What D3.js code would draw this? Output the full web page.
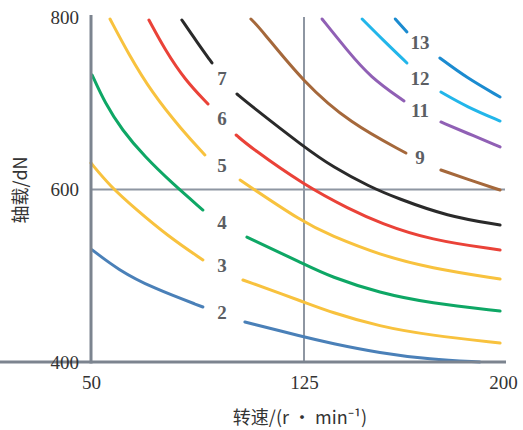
<!DOCTYPE html>
<html>
<head>
<meta charset="UTF-8">
<script src="https://cdn.jsdelivr.net/npm/d3@7"></script>
<style>
body{ margin:0; background:#fff; }
</style>
</head>
<body>
<script>

var width = 523;
var height = 430;

// tick labels
var xTicks = [50, 125, 200];
var yTicks = [400, 600, 800];

// curve names (labels) and colours
var names = ["2", "3", "4", "5", "6", "7", "9", "11", "12", "13"];
var colors = ["#4a80b8", "#f8c23e", "#0ea765", "#f8c23e", "#ea4238", "#2a2a2a",
              "#a5683b", "#9060b5", "#22b6ea", "#1b8bd0"];

// curve values [speed, load]; null = gap where the label sits
var c2  = [[50.4,530],[59.5,507],[71.5,486],[89.4,463.8],null,[104.2,446.4],[125,429],[134.8,422],[153.6,410.4],[172.5,403],[191.3,400]];
var c3  = [[50,630.7],[56.7,604],[65.5,578],[77.1,546],[89.4,518.3],null,[103.5,495.1],[125,469.6],[134.8,458],[153.6,441],[172.5,431],[198.9,422]];
var c4  = [[50.4,732.7],[54.9,700.3],[60.9,669],[69,637.7],[78.5,607.5],[89.4,576.2],null,[104.9,544.9],[125,513.6],[134.8,499],[153.6,480],[172.5,468.4],[198.9,459.1]];
var c5  = [[56.7,797.7],[63,758.3],[71.5,711.9],[82,669],[90.1,640],null,[102.5,611],[125,561.2],[134.8,547.2],[153.6,524.1],[172.5,509],[198.9,496.2]];
var c6  = [[70.4,796.5],[76.1,761.7],[83.1,727],[91.2,699.1],null,[101.1,663.2],[106,649.3],[125,605.2],[142.3,577],[153.6,561.2],[172.5,541.4],[198.9,529.9]];
var c7  = [[82,796.5],[87.3,771],[92.6,746.7],null,[101.4,710.7],[106,698],[125,649.3],[135.9,626],[149.9,603],[160,590],[178.9,569],[198.9,558.8]];
var c9  = [[106.3,797.7],[109.5,787.2],[125,723.5],[142.3,677.1],[163.4,642.3],null,[176.6,622.6],[186.4,612],[198.9,599.4]];
var c11 = [[131.8,797.7],[141.2,761.7],[149.9,730.4],[162.7,702.6],null,[176.6,678.3],[186.4,665.5],[198.9,649.3]];
var c12 = [[146.9,797.7],[154.8,773.3],[163.8,746.7],null,[176.6,713],[186.4,695.7],[198.9,679.4]];
var c13 = [[159.4,797.7],[163.8,782.6],null,[176.2,752.5],[186.4,729.3],[198.9,707.2]];
var curves = [c2, c3, c4, c5, c6, c7, c9, c11, c12, c13];

// label positions [speed, load]
var labelX = [96.1, 96.1, 96.1, 96.1, 96.1, 96.1, 168.7, 168.7, 168.7, 168.7];
var labelY = [458, 512.5, 562.3, 628.4, 682.9, 729.3, 637.7, 692.2, 729.3, 771];

var x = d3.scaleLinear().domain([50, 125, 200]).range([91, 304, 503]);
var y = d3.scaleLinear().domain([400, 800]).range([362, 17]);

var svg = d3.select('body')
    .append('svg')
    .attr('width', width)
    .attr('height', height);

var gridColor = "#8e96a2";
var axisColor = "#7c848f";

// grid lines
svg.append("line")
    .attr("x1", x(50)).attr("x2", x(200) + 2)
    .attr("y1", y(600)).attr("y2", y(600))
    .attr("stroke", gridColor).attr("stroke-width", 2);
svg.append("line")
    .attr("x1", x(125)).attr("x2", x(125))
    .attr("y1", y(800)).attr("y2", y(400))
    .attr("stroke", gridColor).attr("stroke-width", 2);

// curves
var line = d3.line()
    .defined(function(d) { return d != null; })
    .x(function(d) { return x(d[0]); })
    .y(function(d) { return y(d[1]); })
    .curve(d3.curveBasis);

svg.append("g")
    .selectAll("path")
    .data(curves)
    .enter().append("path")
    .attr("d", line)
    .attr("fill", "none")
    .attr("stroke", function(d, i) { return colors[i]; })
    .attr("stroke-width", 3)
    .attr("stroke-linecap", "round");

// curve labels
svg.append("g")
    .selectAll("text")
    .data(names)
    .enter().append("text")
    .attr("x", function(d, i) { return x(labelX[i]); })
    .attr("y", function(d, i) { return y(labelY[i]); })
    .attr("dy", "0.35em")
    .attr("text-anchor", "middle")
    .attr("font-family", "Liberation Serif, serif")
    .attr("font-weight", "bold")
    .attr("font-size", 19)
    .attr("fill", "#5b5e63")
    .text(function(d) { return d; });

// axes
var xAxis = svg.append("g")
    .attr("transform", "translate(0," + y(400) + ")")
    .call(d3.axisBottom(x).tickValues(xTicks).tickSize(0).tickPadding(14));
var yAxis = svg.append("g")
    .attr("transform", "translate(" + x(50) + ",0)")
    .call(d3.axisLeft(y).tickValues(yTicks).tickSize(0).tickPadding(12));

xAxis.select(".domain").attr("stroke", axisColor).attr("stroke-width", 3)
    .attr("d", "M0,0H" + (x(200) + 3));
yAxis.select(".domain").attr("stroke", axisColor).attr("stroke-width", 3)
    .attr("d", "M0," + (y(400) + 1.5) + "V" + (y(800) - 2));

svg.selectAll(".tick text")
    .attr("font-family", "Liberation Serif, serif")
    .attr("font-size", 19)
    .attr("fill", "#333");

// axis titles
svg.append("text")
    .attr("x", 300)
    .attr("y", 424)
    .attr("text-anchor", "middle")
    .attr("font-family", "Noto Sans CJK SC, sans-serif")
    .attr("font-size", 18)
    .attr("fill", "#333")
    .text("转速/(r • min⁻¹)");

svg.append("text")
    .attr("transform", "translate(27,190) rotate(-90)")
    .attr("text-anchor", "middle")
    .attr("font-family", "Noto Sans CJK SC, sans-serif")
    .attr("font-size", 18)
    .attr("fill", "#333")
    .text("轴载/dN");

</script>
</body>
</html>
